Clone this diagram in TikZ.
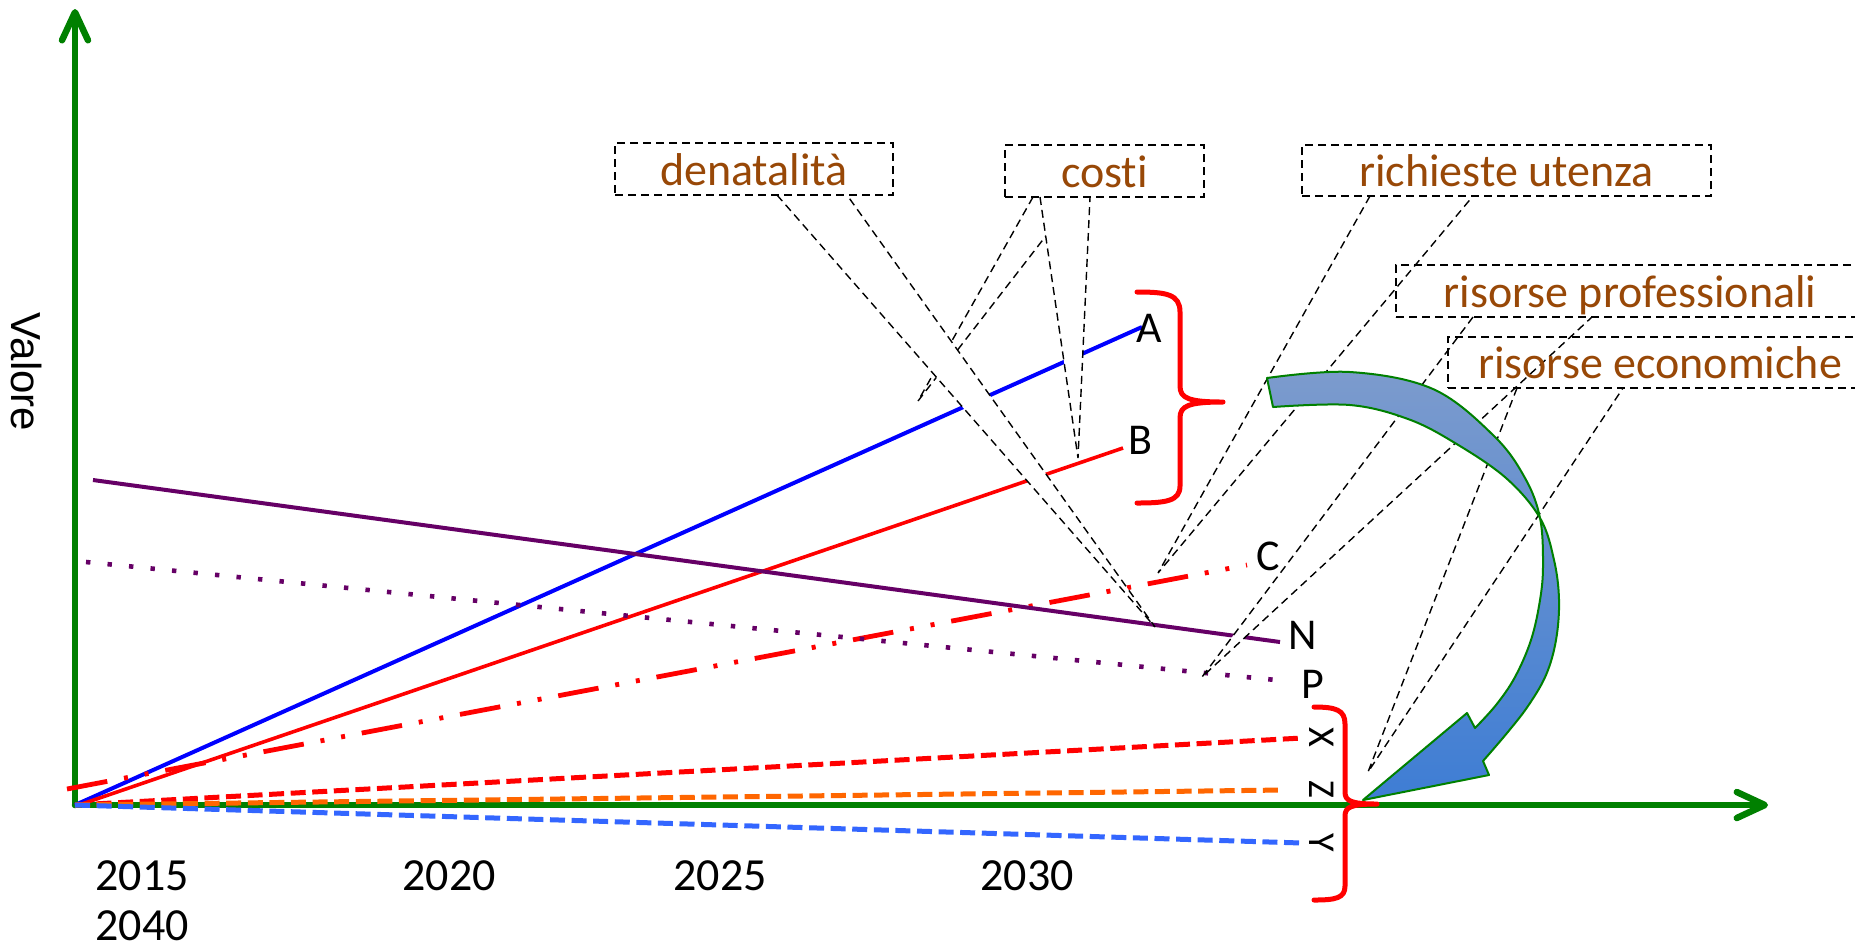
\documentclass[tikz,border=0pt]{standalone}
\usepackage{fontspec}
\setmainfont{Carlito}[Ligatures=NoCommon]
\newfontfamily\labelsans{Liberation Sans}
\usetikzlibrary{arrows.meta}

\definecolor{axisgreen}{RGB}{0,128,0}
\definecolor{calloutbrown}{HTML}{984807}
\definecolor{trendpurple}{RGB}{102,0,102}
\definecolor{trendorange}{RGB}{255,102,0}
\definecolor{trendblue}{RGB}{51,102,255}
\definecolor{bendtop}{RGB}{124,155,205}
\definecolor{bendbottom}{RGB}{62,125,212}

\tikzset{
  axisline/.style={draw=axisgreen, line width=3.25pt, line cap=round,
    -{Straight Barb[length=14pt,width=13pt,line cap=round,line join=round]}},
  trend/.style={line width=2pt, line cap=butt},
  dashtrend/.style={trend, line width=2.5pt, dash pattern=on 7.5pt off 3.3pt},
  leaderline/.style={draw=black, line width=0.7pt, dash pattern=on 4pt off 2.5pt},
  calloutbox/.style={leaderline, text=calloutbrown, font=\fontsize{23}{28}\selectfont,
    inner sep=0pt, text height=16pt, text depth=0pt},
  bracepath/.style={draw=red, line width=2.5pt, line cap=round, line join=round},
  letter/.style={font=\fontsize{22}{26}\selectfont, inner sep=0pt},
  sideletter/.style={font=\fontsize{19}{23}\selectfont, inner sep=0pt, rotate=-90},
  yearlabel/.style={font=\fontsize{23}{28}\selectfont, inner sep=0pt, anchor=base},
}

% a white pointer below a callout box, from two base points to a tip
\newcommand\wedgecallout[3]{%
  \fill[white] (#1) -- (#3) -- (#2) -- cycle;
  \draw[leaderline] (#1) -- (#3) -- (#2);}

\begin{document}
\begin{tikzpicture}[x=0.5pt,y=-0.5pt]
\useasboundingbox (0,0) rectangle (1855,950);
\clip (0,0) rectangle (1855,950);
\fill[white] (0,0) rectangle (1855,950);

% ---------- axes ----------
\coordinate (O) at (75,805);
\coordinate (ytop) at (75,9);
\coordinate (xend) at (1768,805);
\draw[axisline] (O) -- (ytop);
\draw[axisline] (O) -- (xend);

\node[font=\labelsans\fontsize{21}{25}\selectfont, rotate=-90, inner sep=0pt] (valore) at (27,372) {Valore};

\node[yearlabel] (y2015) at (142,890) {2015};
\node[yearlabel] (y2040) at (142,940) {2040};
\node[yearlabel] (y2020) at (449,890) {2020};
\node[yearlabel] (y2025) at (720,890) {2025};
\node[yearlabel] (y2030) at (1027,890) {2030};

% ---------- trend lines ----------
\coordinate (Aend) at (1142,327);
\coordinate (Bstart) at (79,805);
\coordinate (Bend) at (1123,448);
\coordinate (Cstart) at (67,789);
\coordinate (Cend) at (1247,565);
\coordinate (Nstart) at (93,480);
\coordinate (Nend) at (1280,642);
\coordinate (Pstart) at (86,562);
\coordinate (Pend) at (1286,681);
\coordinate (Xend) at (1302,738);
\coordinate (Zend) at (1283,790);
\coordinate (Yend) at (1302,843);

\draw[trend, draw=blue] (O) -- (Aend);
\draw[trend, draw=red, line width=1.8pt] (Bstart) -- (Bend);
\draw[trend, draw=red, line width=2.4pt,
  dash pattern=on 20.5pt off 8.5pt on 2pt off 8.5pt on 2pt off 8.5pt] (Cstart) -- (Cend);
\draw[trend, draw=trendpurple] (Nstart) -- (Nend);
\draw[trend, draw=trendpurple, line width=2.3pt, dash pattern=on 2.2pt off 8.6pt] (Pstart) -- (Pend);
\draw[dashtrend, draw=red] (O) -- (Xend);
\draw[dashtrend, draw=trendorange] (O) -- (Zend);
\draw[dashtrend, draw=trendblue] (O) -- (Yend);

\node[letter] (labA) at (1149,328) {A};
\node[letter] (labB) at (1140,440) {B};
\node[letter] (labC) at (1268,556) {C};
\node[letter] (labN) at (1303,635) {N};
\node[letter] (labP) at (1313,684) {P};
\node[sideletter] (labX) at (1322,737) {X};
\node[sideletter] (labZ) at (1322,789) {Z};
\node[sideletter] (labY) at (1322,843) {Y};

% ---------- braces ----------
\draw[bracepath] (1137,292) .. controls (1166,292) and (1180,294) .. (1180,312)
  -- (1180,386) .. controls (1180,398) and (1188,402) .. (1223,402)
  .. controls (1188,402) and (1180,406) .. (1180,418)
  -- (1180,486) .. controls (1180,501) and (1166,503) .. (1137,503);
\draw[bracepath] (1314,707) .. controls (1336,707) and (1345,710) .. (1345,724)
  -- (1345,792) .. controls (1345,801) and (1351,804) .. (1377,804)
  .. controls (1351,804) and (1345,807) .. (1345,816)
  -- (1345,886) .. controls (1345,898) and (1336,900) .. (1314,900);

% ---------- callouts ----------
\coordinate (costiA1) at (1033,197);
\coordinate (costiA2) at (1076,197);
\coordinate (costiAtip) at (918,401);
\coordinate (costiB1) at (1040,197);
\coordinate (costiB2) at (1090,197);
\coordinate (costiBtip) at (1078,458);
\coordinate (denat1) at (777,195);
\coordinate (denat2) at (847,195);
\coordinate (denattip) at (1155,627);
\coordinate (utenza1) at (1370,196);
\coordinate (utenza2) at (1473,196);
\coordinate (utenzatip) at (1158,573);
\coordinate (profess1) at (1473,317);
\coordinate (profess2) at (1592,317);
\coordinate (professtip) at (1202,677);
\coordinate (econ1) at (1517,388);
\coordinate (econ2) at (1623,388);
\coordinate (econtip) at (1368,772);

\wedgecallout{costiA1}{costiA2}{costiAtip}
\wedgecallout{costiB1}{costiB2}{costiBtip}
\wedgecallout{denat1}{denat2}{denattip}
\wedgecallout{utenza1}{utenza2}{utenzatip}
\wedgecallout{profess1}{profess2}{professtip}
\wedgecallout{econ1}{econ2}{econtip}

% boxes sit on top of their pointers
\node[calloutbox, minimum width=139pt, minimum height=26pt] (denat) at (754,169) {denatalità};
\node[calloutbox, minimum width=99.5pt, minimum height=26pt] (costi) at (1104.5,171) {costi};
\node[calloutbox, minimum width=204.5pt, minimum height=25.5pt] (utenza) at (1506.5,170.5) {richieste utenza};
\node[calloutbox, minimum width=234pt, minimum height=26pt] (profess) at (1630,291) {risorse professionali};
\node[calloutbox, minimum width=212pt, minimum height=25.5pt] (econ) at (1660,362.5) {risorse economiche};

% ---------- curved arrow ----------
\path[draw=axisgreen, line width=1pt, line join=round, top color=bendtop, bottom color=bendbottom]
  plot[smooth, tension=0.6] coordinates {(1267,378) (1350,372) (1433,389) (1494,436) (1525,478)
    (1540,518) (1543,565) (1540,600) (1531,640) (1515,677) (1496,705) (1475,728)}
  -- (1467,713) -- (1363,800) -- (1489,775)
  -- plot[smooth, tension=0.6] coordinates {(1483,761) (1507,733) (1528,706) (1546,675) (1556,640)
    (1559,600) (1554,560) (1540,518) (1506,478) (1455,443) (1408,419) (1350,405) (1273,407)}
  -- cycle;
\end{tikzpicture}
\end{document}
